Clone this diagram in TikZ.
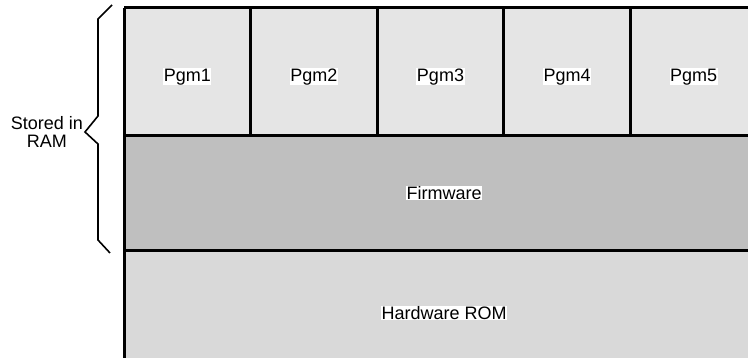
\documentclass[tikz,border=0pt]{standalone}
\usepackage{fontspec}
\setmainfont{Liberation Sans}
\usetikzlibrary{positioning}
\definecolor{pgmgray}{HTML}{E5E5E5}
\definecolor{fwgray}{HTML}{BFBFBF}
\definecolor{romgray}{HTML}{D9D9D9}
\tikzset{
  pgmbox/.style={rectangle, fill=pgmgray, inner sep=0pt, minimum width=126.2pt, minimum height=127pt},
  wall/.style={line width=3pt},
  lbl/.style={fill=white, inner sep=0.5pt, font=\fontsize{18}{17.5}\selectfont},
}
\begin{document}
\begin{tikzpicture}[x=1pt,y=-1pt]
  \useasboundingbox (0,0) rectangle (748,358);
  \clip (0,0) rectangle (748,358);
  % program slots
  \node[pgmbox, anchor=north west] (pgm1) at (124,8) {};
  \node[pgmbox, right=0pt of pgm1] (pgm2) {};
  \node[pgmbox, right=0pt of pgm2] (pgm3) {};
  \node[pgmbox, right=0pt of pgm3] (pgm4) {};
  \node[pgmbox, right=0pt of pgm4] (pgm5) {};
  % firmware and rom
  \node[rectangle, fill=fwgray, inner sep=0pt, minimum width=640pt, minimum height=115pt,
        anchor=north west] (fw) at (pgm1.south west) {};
  \node[rectangle, fill=romgray, inner sep=0pt, minimum width=640pt, minimum height=124pt,
        anchor=north west] (rom) at (fw.south west) {};
  % borders
  \draw[wall] (pgm1.north west) -- (pgm5.north east);
  \draw[wall] (pgm1.north west) -- (rom.south west);
  \draw[wall] (pgm1.north east) -- (pgm1.south east);
  \draw[wall] (pgm2.north east) -- (pgm2.south east);
  \draw[wall] (pgm3.north east) -- (pgm3.south east);
  \draw[wall] (pgm4.north east) -- (pgm4.south east);
  \draw[wall] (fw.north west) -- (fw.north east);
  \draw[wall] (fw.south west) -- (fw.south east);
  % labels
  \node[lbl, yshift=-5pt] (l1) at (pgm1.center) {Pgm1};
  \node[lbl, yshift=-5pt] (l2) at (pgm2.center) {Pgm2};
  \node[lbl, yshift=-5pt] (l3) at (pgm3.center) {Pgm3};
  \node[lbl, yshift=-5pt] (l4) at (pgm4.center) {Pgm4};
  \node[lbl, yshift=-5pt] (l5) at (pgm5.center) {Pgm5};
  \node[lbl] (lfw) at (fw.center) {Firmware};
  \node[lbl] (lrom) at (rom.center) {Hardware ROM};
  % brace
  \coordinate (tip) at (85,132);
  \draw[line width=1.6pt] (112,5) -- (98,19) -- (98,116) -- (tip) -- (98,144) -- (98,240) -- (110,253);
  \node[anchor=east, align=center, inner sep=2pt, font=\fontsize{18}{17.5}\selectfont] (ram) at (tip) {Stored in\\RAM};
\end{tikzpicture}
\end{document}
